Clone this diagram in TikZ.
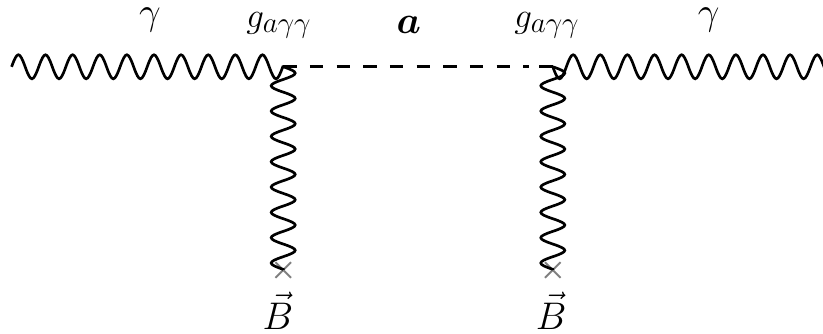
\documentclass[tikz,border=0pt]{standalone}
\usepackage{amsmath,amssymb,amsfonts}
\usepackage{tikz}
\usetikzlibrary{decorations,shapes.misc}

\pgfdeclaredecoration{sinewave}{up}{
  \state{up}[switch if less than=.25\pgfdecorationsegmentlength to final,
             width=.5\pgfdecorationsegmentlength, next state=down]{
    \pgfpathcurveto{\pgfqpoint{.2122\pgfdecorationsegmentlength}{1.333\pgfdecorationsegmentamplitude}}
                   {\pgfqpoint{.2878\pgfdecorationsegmentlength}{1.333\pgfdecorationsegmentamplitude}}
                   {\pgfqpoint{.5\pgfdecorationsegmentlength}{0pt}}
  }
  \state{down}[switch if less than=.25\pgfdecorationsegmentlength to final,
               width=.5\pgfdecorationsegmentlength, next state=up]{
    \pgfpathcurveto{\pgfqpoint{.2122\pgfdecorationsegmentlength}{-1.333\pgfdecorationsegmentamplitude}}
                   {\pgfqpoint{.2878\pgfdecorationsegmentlength}{-1.333\pgfdecorationsegmentamplitude}}
                   {\pgfqpoint{.5\pgfdecorationsegmentlength}{0pt}}
  }
  \state{final}{\pgfpathlineto{\pgfpointdecoratedpathlast}}
}

\begin{document}
\begin{tikzpicture}[
  photon/.style={black, line width=1.9pt, decorate,
                 decoration={sinewave, segment length=6.78mm, amplitude=3mm}},
  field/.style={black, line width=1.9pt, decorate,
                decoration={sinewave, segment length=6.33mm, amplitude=3mm}},
  scalar/.style={black, line width=2pt, dash pattern=on 3.37mm off 3.3mm},
  insertion/.style={cross out, draw=black!50, line width=1.4pt, minimum size=3.4mm, inner sep=0pt},
  lblgam/.style={font=\Huge, scale=1.1, inner sep=0pt},
  lblax/.style={font=\Huge, scale=1.1, inner sep=0pt},
  lblcpl/.style={font=\Huge, inner sep=0pt},
  lblfld/.style={font=\Huge, scale=1.1, inner sep=0pt},
]
\useasboundingbox (0, 0) rectangle (20.575, 8.35);

% ---------------- vertices and free ends ---------------------------------
\coordinate (v1) at (7.08, 6.68);
\coordinate (v2) at (13.82, 6.68);
\coordinate (inL) at (0.29, 6.68);
\coordinate (inR) at (20.61, 6.68);
\coordinate (dm) at (13.23, 6.68);

% ---------------- external field insertions ------------------------------
\foreach \i/\x in {1/7.08, 2/13.82} {
  \node[insertion] (x\i) at (\x, 1.6) {};
}

% ---------------- propagators --------------------------------------------
\draw[photon] (inL) -- (v1);
\draw[photon, decoration={mirror}] (v2) -- (inR);
\draw[field] (v1) -- (x1.center);
\draw[field] (v2) -- (x2.center);
\draw[scalar] (v1) -- (dm);
\draw[scalar] (v2) -- (dm);

% ---------------- labels -------------------------------------------------
\node[lblgam] (gamL) at (3.75, 7.85) {$\gamma$};
\node[lblgam] (gamR) at (17.72, 7.85) {$\gamma$};
\node[lblax] (ax) at (10.22, 7.72) {$\boldsymbol{a}$};
\node[lblcpl] (cplL) at (6.97, 7.72) {$g_{a\gamma\gamma}$};
\node[lblcpl] (cplR) at (13.67, 7.72) {$g_{a\gamma\gamma}$};
\node[lblfld] (bL) at (6.95, 0.58) {$\vec{B}$};
\node[lblfld] (bR) at (13.78, 0.58) {$\vec{B}$};

\end{tikzpicture}
\end{document}
